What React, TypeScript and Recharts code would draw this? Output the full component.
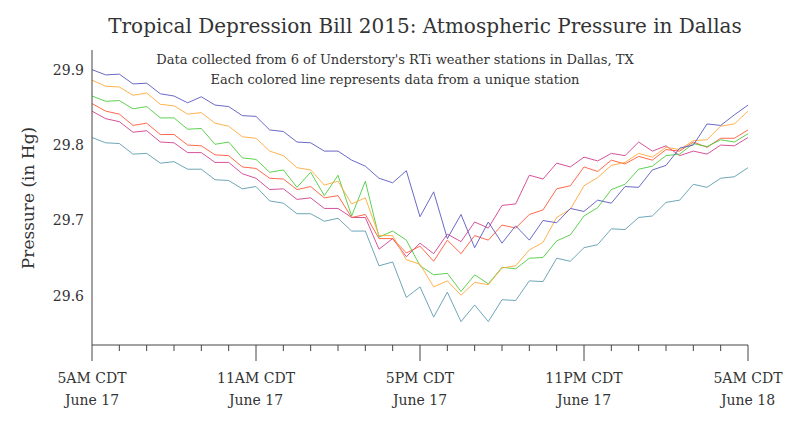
import React from "react";
import { LineChart, Line, XAxis, YAxis } from "recharts";

const hours = Array.from({ length: 49 }, (_, i) => i / 2);

const navy = [29.900,29.893,29.894,29.881,29.882,29.868,29.865,29.856,29.864,29.853,29.851,29.839,29.838,29.820,29.818,29.804,29.803,29.792,29.792,29.780,29.772,29.756,29.750,29.766,29.705,29.738,29.676,29.708,29.664,29.698,29.670,29.693,29.674,29.700,29.697,29.716,29.712,29.727,29.723,29.745,29.744,29.767,29.773,29.796,29.800,29.828,29.826,29.840,29.853];
const orange = [29.886,29.878,29.877,29.866,29.869,29.854,29.852,29.841,29.843,29.829,29.825,29.811,29.809,29.792,29.786,29.770,29.767,29.747,29.752,29.722,29.730,29.680,29.680,29.648,29.642,29.612,29.620,29.601,29.618,29.615,29.637,29.640,29.661,29.671,29.704,29.715,29.746,29.757,29.773,29.777,29.789,29.784,29.797,29.794,29.806,29.807,29.825,29.828,29.845];
const green = [29.865,29.858,29.859,29.848,29.851,29.836,29.836,29.821,29.822,29.801,29.804,29.783,29.781,29.764,29.767,29.744,29.764,29.733,29.760,29.706,29.752,29.678,29.686,29.674,29.640,29.628,29.630,29.606,29.628,29.616,29.638,29.636,29.650,29.651,29.673,29.681,29.706,29.717,29.741,29.748,29.768,29.772,29.786,29.788,29.802,29.798,29.807,29.804,29.815];
const red = [29.855,29.845,29.841,29.826,29.829,29.814,29.814,29.800,29.799,29.787,29.786,29.771,29.769,29.756,29.755,29.741,29.745,29.730,29.733,29.704,29.708,29.676,29.676,29.657,29.666,29.646,29.674,29.656,29.680,29.674,29.694,29.690,29.708,29.714,29.742,29.746,29.771,29.765,29.780,29.775,29.785,29.780,29.794,29.792,29.804,29.797,29.809,29.809,29.820];
const magenta = [29.845,29.835,29.831,29.817,29.819,29.804,29.803,29.790,29.790,29.777,29.777,29.762,29.756,29.741,29.742,29.728,29.730,29.716,29.716,29.704,29.704,29.662,29.676,29.652,29.670,29.656,29.682,29.672,29.698,29.690,29.720,29.722,29.760,29.755,29.776,29.771,29.784,29.779,29.789,29.786,29.804,29.792,29.799,29.786,29.792,29.788,29.800,29.799,29.810];
const teal = [29.810,29.803,29.802,29.788,29.789,29.776,29.778,29.768,29.768,29.754,29.753,29.742,29.745,29.726,29.723,29.709,29.709,29.699,29.703,29.686,29.686,29.640,29.645,29.598,29.612,29.572,29.605,29.566,29.588,29.566,29.595,29.594,29.620,29.619,29.650,29.646,29.664,29.668,29.689,29.688,29.704,29.706,29.724,29.727,29.748,29.744,29.756,29.758,29.770];

const xTicks = Array.from({ length: 25 }, (_, i) => i);
const yTicks = [29.6, 29.7, 29.8, 29.9];
const majorLabels: Record<number, string> = { 0: "5AM CDT", 6: "11AM CDT", 12: "5PM CDT", 18: "11PM CDT", 24: "5AM CDT" };
const majorDates: Record<number, string> = { 0: "June 17", 6: "June 17", 12: "June 17", 18: "June 17", 24: "June 18" };

const data = hours.map((h, i) => ({ h, navy: navy[i], orange: orange[i], green: green[i], red: red[i], magenta: magenta[i], teal: teal[i] }));

const series: [string, string][] = [
  ["teal", "#5e9cb0"], ["magenta", "#d0408f"], ["red", "#ff5a3a"],
  ["green", "#4ccc3e"], ["orange", "#ffaa3c"], ["navy", "#5a5ac0"],
];

const font = "'DejaVu Serif', Georgia, serif";

const XTick = (p: any) => {
  const v = p.payload.value;
  const major = majorLabels[v] !== undefined;
  return (
    <g>
      <line x1={p.x} x2={p.x} y1={p.y - 8} y2={p.y - 8 + (major ? 16 : 6)} stroke="#444" />
      {major && (
        <text x={p.x} y={p.y + 30} textAnchor="middle" fontSize={14} fill="#333" fontFamily={font}>
          {majorLabels[v]}
        </text>
      )}
      {major && (
        <text x={p.x} y={p.y + 52} textAnchor="middle" fontSize={14} fill="#333" fontFamily={font}>
          {majorDates[v]}
        </text>
      )}
    </g>
  );
};

export default function App() {
  return (
    <div style={{ position: "absolute", left: 0, top: 0, width: 800, height: 423, fontFamily: font }}>
      <LineChart width={800} height={423} data={data} margin={{ top: 50, right: 52, bottom: 0, left: 32 }}>
        <XAxis dataKey="h" type="number" domain={[0, 24]} ticks={xTicks} tick={<XTick />} tickLine={false}
          stroke="#444" height={78} interval={0} />
        <YAxis type="number" domain={[29.535, 29.926]} ticks={yTicks} tickLine={false} stroke="#444" width={60}
          tick={{ fontSize: 14, fill: "#333", fontFamily: font }} tickFormatter={(v: number) => v.toFixed(1)} />
        {series.map(([k, c]) => (
          <Line key={k} dataKey={k} stroke={c} strokeWidth={1} dot={false} isAnimationActive={false} strokeOpacity={0.9} />
        ))}
      </LineChart>
      <div style={{ position: "absolute", left: 0, width: 850, top: 14, textAlign: "center", fontSize: 20, color: "#333" }}>
        Tropical Depression Bill 2015: Atmospheric Pressure in Dallas
      </div>
      <div style={{ position: "absolute", left: 0, width: 790, top: 50, textAlign: "center", fontSize: 13, color: "#333", lineHeight: "20px" }}>
        Data collected from 6 of Understory's RTi weather stations in Dallas, TX<br />
        Each colored line represents data from a unique station
      </div>
      <div style={{ position: "absolute", left: 28, top: 198, transform: "translate(-50%, -50%) rotate(-90deg)", whiteSpace: "nowrap", fontSize: 17, color: "#333" }}>
        Pressure (in Hg)
      </div>
    </div>
  );
}
